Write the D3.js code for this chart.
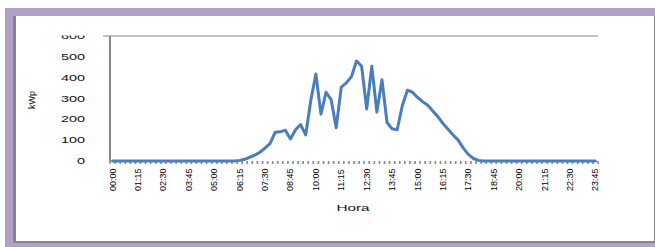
<!DOCTYPE html>
<html><head><meta charset="utf-8">
<script src="https://cdn.jsdelivr.net/npm/d3@7"></script>
<style>body{margin:0;background:#fff;}svg{display:block;}</style>
</head><body>
<svg id="c" width="655" height="247"></svg>
<script>
const times = d3.range(96).map(i => String(Math.floor(i/4)).padStart(2,"0") + ":" + String((i%4)*15).padStart(2,"0"));
const tickLabelTimes = ["00:00","01:15","02:30","03:45","05:00","06:15","07:30","08:45","10:00","11:15","12:30","13:45","15:00","16:15","17:30","18:45","20:00","21:15","22:30","23:45"];
const yTicks = [0,100,200,300,400,500,600];
const power = [
  0,0,0,0,0,0,0,0,0,0,0,0,
  0,0,0,0,0,0,0,0,0,0,0,0,
  0,3,8,18,28,42,62,85,138,140,148,106,
  150,175,125,290,418,225,330,295,160,355,375,405,
  480,455,250,455,235,390,185,155,150,265,340,330,
  305,285,268,240,213,180,152,125,100,62,32,12,
  3,0,0,0,0,0,0,0,0,0,0,0,
  0,0,0,0,0,0,0,0,0,0,0,0
];

const svg = d3.select("#c");
const grey = "#868686";
// frame
svg.append("rect").attr("x",5).attr("y",8).attr("width",650).attr("height",239).attr("fill","#b1a0c7");
svg.append("rect").attr("x",13).attr("y",16).attr("width",642).attr("height",227).attr("fill",grey);
svg.append("rect").attr("x",16).attr("y",16).attr("width",638).attr("height",225).attr("fill","#fff");

const x = d3.scalePoint().domain(times).range([110,598]).padding(0.5);
const y = d3.scaleLinear().domain([0,600]).range([161,36]);

// top border line
svg.append("line").attr("x1",103).attr("x2",598).attr("y1",y(600)).attr("y2",y(600)).attr("stroke",grey).attr("stroke-width",1);

// category tick marks
const step = x.step();
const tg = svg.append("g");
tg.selectAll("line").data(d3.range(97)).join("line")
  .attr("x1", i => 110 + i*step).attr("x2", i => 110 + i*step)
  .attr("y1", y(0)).attr("y2", y(0)+3)
  .attr("stroke", grey).attr("stroke-width", 1.6);

// left axis line
svg.append("line").attr("x1",110).attr("x2",110).attr("y1",y(600)).attr("y2",y(0)+1).attr("stroke",grey).attr("stroke-width",2);

// y labels (clipped at top)
svg.append("clipPath").attr("id","yc").append("rect").attr("x",40).attr("y",35.5).attr("width",60).attr("height",140);
const yl = svg.append("g").attr("clip-path","url(#yc)");
yl.selectAll("text").data(yTicks).join("text")
  .attr("transform", d => `translate(85,${y(d)+3}) scale(1.7,1)`)
  .attr("text-anchor","end")
  .attr("font-family","Liberation Sans, Arial, sans-serif")
  .attr("font-size",8.5).attr("fill","#111")
  .text(d => d);

// y title
svg.append("text").attr("transform","translate(35,100) rotate(-90)")
  .attr("text-anchor","middle").attr("font-family","Liberation Sans, Arial, sans-serif")
  .attr("font-size",9).attr("fill","#111").text("kWp");

// x labels
svg.append("g").selectAll("text").data(tickLabelTimes).join("text")
  .attr("transform", d => `translate(${x(d)+3},191) rotate(-90)`)
  .attr("text-anchor","start")
  .attr("font-family","Liberation Sans Narrow, Liberation Sans, Arial, sans-serif")
  .attr("font-size",9).attr("fill","#000")
  .text(d => d);

// x title
svg.append("text").attr("transform","translate(353,211) scale(1.7,1)")
  .attr("text-anchor","middle").attr("font-family","Liberation Sans, Arial, sans-serif")
  .attr("font-size",9).attr("fill","#111").text("Hora");

// series line
const line = d3.line().x((d,i) => x(times[i])).y(d => y(d));
svg.append("path").datum(power).attr("d", line)
  .attr("fill","none").attr("stroke","#4a7ebb").attr("stroke-width",3)
  .attr("stroke-linejoin","round").attr("stroke-linecap","round");
</script>
</body></html>
